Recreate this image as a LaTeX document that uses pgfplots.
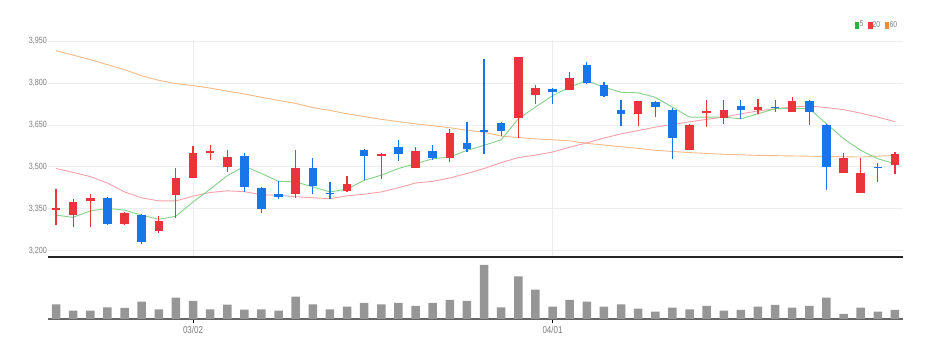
\documentclass[border=0pt]{standalone}
\usepackage{fontspec}
\setmainfont{Liberation Sans}[FakeStretch=0.8]
\usepackage{pgfplots}
\usepackage{pgfplotstable}
\pgfplotsset{compat=1.18}

\definecolor{cred}{RGB}{232,52,58}
\definecolor{cblue}{RGB}{24,118,232}
\definecolor{maA}{RGB}{130,210,135}
\definecolor{maB}{RGB}{245,160,170}
\definecolor{maC}{RGB}{246,185,135}
\definecolor{lgA}{RGB}{40,180,60}
\definecolor{lgB}{RGB}{235,60,60}
\definecolor{lgC}{RGB}{240,140,50}
\definecolor{lbl}{RGB}{125,125,125}
\definecolor{vol}{RGB}{150,150,150}

% up candles (red): i open high low close
\pgfplotstableread{
i o h l c
0 3345 3422 3291 3351
1 3327 3383 3283 3374
2 3377 3404 3283 3389
4 3295 3339 3293 3334
6 3271 3325 3264 3305
7 3398 3497 3315 3461
8 3461 3573 3461 3549
9 3548 3577 3526 3555
10 3499 3559 3481 3535
14 3401 3559 3389 3496
17 3414 3466 3410 3440
19 3538 3551 3458 3545
21 3494 3571 3494 3556
23 3531 3636 3517 3621
27 3674 3892 3604 3892
28 3759 3794 3726 3783
30 3776 3841 3776 3819
34 3690 3734 3648 3734
37 3561 3655 3561 3651
38 3694 3738 3642 3700
39 3674 3738 3654 3705
41 3702 3744 3690 3714
43 3696 3749 3696 3734
46 3478 3551 3478 3531
47 3406 3531 3406 3478
49 3508 3553 3476 3547
}\uptab

% down candles (blue)
\pgfplotstableread{
i o h l c
3 3389 3391 3290 3295
5 3327 3330 3222 3231
11 3538 3551 3410 3428
12 3424 3426 3336 3348
13 3401 3448 3384 3391
15 3496 3531 3401 3431
16 3408 3444 3386 3401
18 3559 3564 3452 3538
20 3571 3595 3521 3545
22 3556 3577 3526 3533
24 3585 3662 3553 3563
25 3632 3886 3547 3624
26 3656 3662 3609 3627
29 3777 3781 3726 3767
31 3865 3877 3797 3801
32 3794 3805 3749 3755
33 3702 3738 3648 3690
35 3731 3734 3678 3714
36 3705 3710 3527 3603
40 3717 3741 3672 3702
42 3716 3738 3698 3710
44 3734 3738 3651 3696
45 3651 3655 3416 3499
48 3501 3515 3446 3495
}\downtab

% moving averages
\pgfplotstableread{
i m5 m20 m60
0 3327 3494 3916
1 3319 3480 3900
2 3342 3465 3884
3 3351 3442 3866
4 3345 3410 3848
5 3327 3389 3826
6 3312 3378 3810
7 3323 3378 3798
8 3374 3395 3791
9 3420 3408 3782
10 3468 3414 3771
11 3502 3411 3761
12 3476 3400 3749
13 3448 3398 3738
14 3446 3393 3727
15 3428 3389 3712
16 3410 3386 3702
17 3420 3396 3690
18 3452 3402 3680
19 3470 3410 3670
20 3494 3425 3662
21 3511 3442 3654
22 3529 3448 3647
23 3535 3460 3640
24 3559 3476 3631
25 3577 3494 3624
26 3597 3515 3610
27 3672 3533 3605
28 3714 3542 3600
29 3755 3553 3597
30 3785 3570 3593
31 3809 3586 3584
32 3785 3603 3578
33 3767 3618 3572
34 3765 3630 3566
35 3749 3642 3559
36 3714 3652 3555
37 3678 3661 3551
38 3678 3670 3548
39 3678 3678 3545
40 3672 3690 3543
41 3690 3700 3541
42 3708 3708 3540
43 3710 3714 3539
44 3708 3718 3538
45 3654 3712 3537
46 3601 3705 3536
47 3559 3692 3535
48 3529 3678 3538
49 3511 3662 3541
}\matab

% volume
\pgfplotstableread{
i v
0 14.7
1 8.3
2 8.3
3 11.7
4 11
5 17.3
6 9.7
7 21.3
8 18
9 9.7
10 14.3
11 9.3
12 9.7
13 8.3
14 22.3
15 14.7
16 9.7
17 12.3
18 16
19 14.7
20 16
21 13
22 16
23 19
24 18
25 54
26 11.7
27 42.7
28 29.3
29 12.3
30 19
31 17.3
32 12.3
33 14.7
34 10.3
35 7.3
36 11.3
37 9.7
38 13
39 8.3
40 9
41 12.3
42 14
43 11.3
44 13
45 21.3
46 5
47 11.3
48 7.3
49 9
}\voltab

\pgfplotsset{
  candle/.style 2 args={draw=none, mark=none, forget plot,
    error bars/.cd, y dir=plus, y explicit, error mark=none,
    error bar style={draw=#1, line width=#2}},
}

\begin{document}
\begin{tikzpicture}
\path[use as bounding box] (0pt,0pt) rectangle (929pt,358pt);

\begin{axis}[
  at={(48pt,101pt)}, anchor=south west,
  scale only axis, width=855pt, height=217.2pt,
  xmin=-0.47, xmax=49.47, ymin=3177, ymax=3955,
  axis x line*=bottom, axis y line*=left,
  x axis line style={black!85, line width=1.6pt, -},
  y axis line style={draw=none},
  xtick={8,29}, xticklabels={},
  ytick={3200,3350,3500,3650,3800,3950},
  xmajorgrids, ymajorgrids,
  major grid style={black!7, line width=0.8pt},
  tick style={draw=none},
  scaled y ticks=false,
  yticklabel style={font=\fontsize{9}{10}\selectfont, text=lbl, inner sep=1pt},
  /pgf/number format/1000 sep={,},
  /pgf/number format/assume math mode=true,
  legend columns=3,
  legend style={at={(1,1)}, anchor=east, xshift=-5pt, yshift=15pt,
    draw=none, fill=none, inner sep=0pt,
    font=\fontsize{8.5}{9}\selectfont, text=lbl,
    nodes={inner sep=0.7pt},
    /tikz/every even column/.append style={column sep=4pt}},
]
% moving averages
\addplot[maC, line width=0.9pt, forget plot] table[x=i, y=m60] {\matab};
\addplot[maB, line width=0.9pt, forget plot] table[x=i, y=m20] {\matab};
\addplot[maA, line width=0.9pt, forget plot] table[x=i, y=m5] {\matab};
% wicks
\addplot[candle={cred}{1.2pt}]
  table[x=i, y=l, y error plus expr=\thisrow{h}-\thisrow{l}] {\uptab};
\addplot[candle={cblue}{1.2pt}]
  table[x=i, y=l, y error plus expr=\thisrow{h}-\thisrow{l}] {\downtab};
% bodies
\addplot[candle={cred}{8.5pt}]
  table[x=i, y=o, y error plus expr=\thisrow{c}-\thisrow{o}] {\uptab};
\addplot[candle={cblue}{8.5pt}]
  table[x=i, y=c, y error plus expr=\thisrow{o}-\thisrow{c}] {\downtab};
% legend
\addlegendimage{legend image code/.code={\fill[lgA] (0pt,-3pt) rectangle (3.5pt,3pt);}}
\addlegendentry{5}
\addlegendimage{legend image code/.code={\fill[lgB] (0pt,-3pt) rectangle (3.5pt,3pt);}}
\addlegendentry{20}
\addlegendimage{legend image code/.code={\fill[lgC] (0pt,-3pt) rectangle (3.5pt,3pt);}}
\addlegendentry{60}
\end{axis}

\begin{axis}[
  at={(48pt,39pt)}, anchor=south west,
  scale only axis, width=855pt, height=57pt,
  xmin=-0.47, xmax=49.47, ymin=0, ymax=57,
  axis x line*=bottom, axis y line=none,
  x axis line style={black!60, line width=1.5pt, -},
  xtick={8,29}, xticklabels={03/02,04/01},
  tick align=outside, major tick length=4pt,
  xtick style={black, line width=0.8pt},
  xticklabel style={font=\fontsize{10}{12}\selectfont, text=lbl},
  ybar, bar width=8.5pt,
]
\addplot[fill=vol, draw=none] table[x=i, y=v] {\voltab};
\end{axis}
\end{tikzpicture}
\end{document}
